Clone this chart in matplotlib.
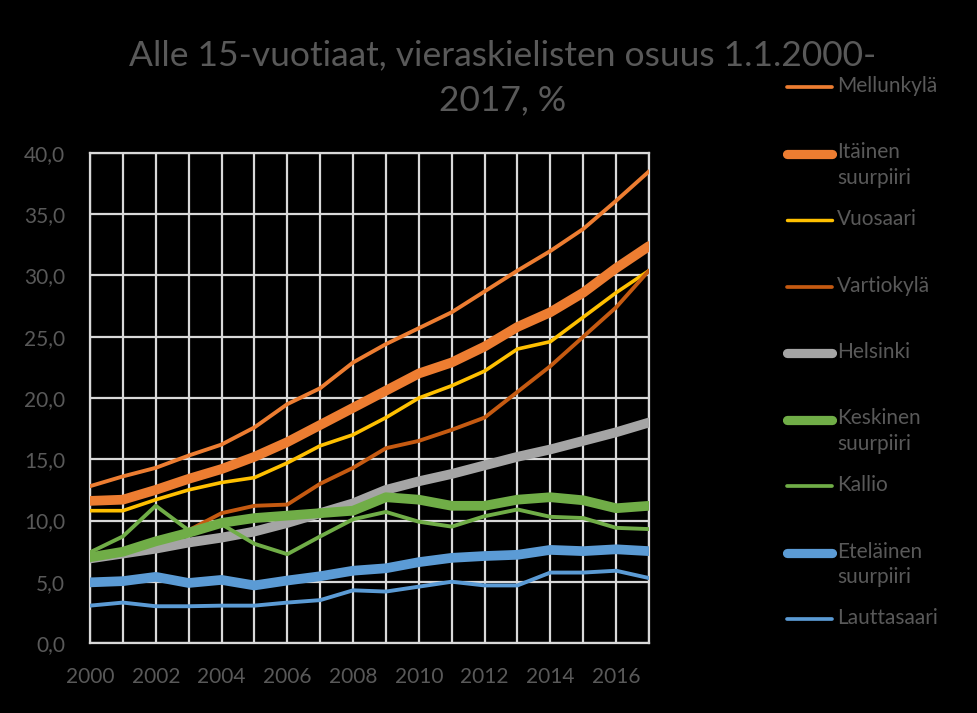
import matplotlib
matplotlib.use("Agg")
import matplotlib.pyplot as plt
from matplotlib.lines import Line2D
from matplotlib.ticker import FuncFormatter, FixedLocator

years = list(range(2000, 2018))

mellunkyla = [12.8, 13.6, 14.3, 15.3, 16.2, 17.6, 19.5, 20.8, 22.9, 24.4, 25.7, 27.0, 28.7, 30.4, 32.0, 33.8, 36.1, 38.5]
itainen = [11.6, 11.7, 12.5, 13.4, 14.2, 15.2, 16.4, 17.8, 19.2, 20.6, 22.0, 22.9, 24.2, 25.8, 27.0, 28.6, 30.6, 32.4]
vuosaari = [10.8, 10.8, 11.7, 12.5, 13.1, 13.5, 14.7, 16.1, 17.0, 18.4, 20.0, 21.0, 22.2, 24.0, 24.6, 26.6, 28.6, 30.4]
vartiokyla = [7.1, 7.5, 8.3, 9.2, 10.6, 11.2, 11.3, 13.0, 14.3, 15.9, 16.5, 17.4, 18.4, 20.5, 22.6, 25.0, 27.4, 30.4]
helsinki = [6.9, 7.3, 7.7, 8.2, 8.6, 9.1, 9.8, 10.6, 11.4, 12.5, 13.2, 13.8, 14.5, 15.2, 15.8, 16.5, 17.2, 18.0]
keskinen = [7.0, 7.45, 8.3, 9.0, 9.8, 10.2, 10.4, 10.6, 10.8, 11.9, 11.7, 11.2, 11.2, 11.7, 11.9, 11.65, 11.0, 11.2]
kallio = [7.4, 8.7, 11.2, 9.2, 9.7, 8.1, 7.25, 8.7, 10.1, 10.7, 9.9, 9.5, 10.35, 10.9, 10.3, 10.2, 9.4, 9.3]
etelainen = [4.95, 5.05, 5.4, 4.9, 5.15, 4.7, 5.1, 5.45, 5.9, 6.1, 6.6, 6.95, 7.1, 7.2, 7.6, 7.5, 7.65, 7.5]
lauttasaari = [3.05, 3.3, 3.0, 3.0, 3.05, 3.05, 3.3, 3.5, 4.3, 4.2, 4.6, 5.0, 4.7, 4.7, 5.75, 5.75, 5.9, 5.3]

series_names = ["Mellunkylä", "Itäinen\nsuurpiiri", "Vuosaari", "Vartiokylä", "Helsinki",
                "Keskinen\nsuurpiiri", "Kallio", "Eteläinen\nsuurpiiri", "Lauttasaari"]
series_values = [mellunkyla, itainen, vuosaari, vartiokyla, helsinki, keskinen, kallio, etelainen, lauttasaari]
colors = ["#ED7D31", "#ED7D31", "#FFC000", "#C55A11", "#A5A5A5", "#70AD47", "#70AD47", "#5B9BD5", "#5B9BD5"]
widths = [2.8, 7.0, 2.6, 2.8, 7.0, 7.0, 2.8, 7.0, 2.8]

title_lines = ["Alle 15-vuotiaat, vieraskielisten osuus 1.1.2000-", "2017, %"]
y_ticks = [0, 5, 10, 15, 20, 25, 30, 35, 40]
x_label_years = [2000, 2002, 2004, 2006, 2008, 2010, 2012, 2014, 2016]

plt.rcParams['font.family'] = ['Lato', 'DejaVu Sans']
TEXT = "#595959"
GRID = "#D9D9D9"

W, H = 977, 713
fig = plt.figure(figsize=(W / 100, H / 100), dpi=100, facecolor="black")
ax = fig.add_axes([90 / W, 1 - 643 / H, 559 / W, 490 / H], facecolor="black")

for vals, c, lw in zip(series_values, colors, widths):
    ax.plot(years, vals, color=c, lw=lw, solid_joinstyle="round", solid_capstyle="round", zorder=3)

ax.set_xlim(2000, 2017)
ax.set_ylim(0, 40)
ax.xaxis.set_major_locator(FixedLocator(years))
ax.set_xticklabels([str(y) if y in x_label_years else "" for y in years])
ax.yaxis.set_major_locator(FixedLocator(y_ticks))
ax.yaxis.set_major_formatter(FuncFormatter(lambda v, p: f"{v:.1f}".replace(".", ",")))
ax.grid(True, color=GRID, lw=1.6, zorder=1)
ax.set_axisbelow(True)
for s in ax.spines.values():
    s.set_color(GRID)
    s.set_linewidth(1.6)
ax.tick_params(length=0, colors=TEXT, labelsize=15)
ax.tick_params(axis="y", pad=18)
ax.tick_params(axis="x", pad=17)

for line, ypx in zip(title_lines, [55, 100]):
    fig.text(503 / W, 1 - ypx / H, line, ha="center", va="center", color=TEXT, fontsize=25.5)

# legend (manual, Excel-like layout)
y0 = 87
step = 66.5
for i, (name, c, lw) in enumerate(zip(series_names, colors, widths)):
    yy = 1 - (y0 + i * step) / H
    fig.add_artist(Line2D([787 / W, 832 / W], [yy, yy], transform=fig.transFigure,
                          color=c, lw=lw * 0.95, solid_capstyle="round"))
    fig.text(837 / W, yy + 11 / H, name, ha="left", va="top", color=TEXT,
             fontsize=15, linespacing=1.35)

fig.savefig("out.png", dpi=100, facecolor="black")
